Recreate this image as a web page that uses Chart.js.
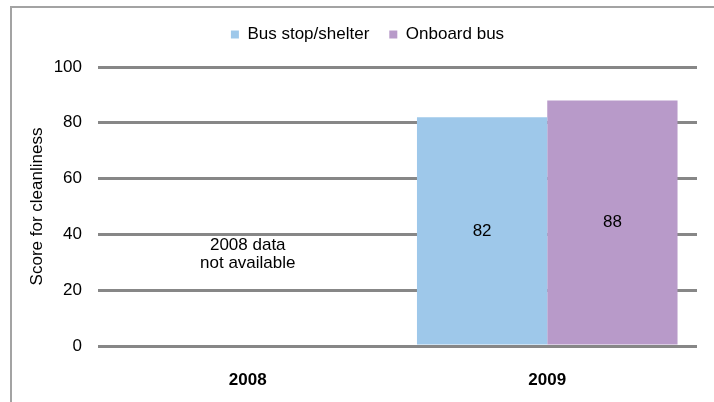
<!DOCTYPE html>
<html>
<head>
<meta charset="utf-8">
<script src="https://cdn.jsdelivr.net/npm/chart.js@4"></script>
<style>
html, body { margin: 0; padding: 0; background: #fff; }
</style>
</head>
<body>
<canvas id="cleanChart" width="714" height="402"></canvas>
<script>
// survey years and scores
const years = ['2008', '2009'];
const busStopScores = [null, 82];
const onboardScores = [null, 88];
const noteLines = ['2008 data', 'not available'];
const noteValue = 33; // where the note sits on the score axis

const FONT = "'Liberation Sans', Arial, sans-serif";

// white page + grey frame on top and left
const framePlugin = {
    id: 'frame',
    beforeDraw(chart) {
        const ctx = chart.ctx;
        ctx.save();
        ctx.fillStyle = '#fff';
        ctx.fillRect(0, 0, chart.width, chart.height);
        ctx.strokeStyle = '#a3a3a3';
        ctx.lineWidth = 2;
        ctx.beginPath();
        ctx.moveTo(11, chart.height);
        ctx.lineTo(11, 7);
        ctx.lineTo(chart.width, 7);
        ctx.stroke();
        ctx.restore();
    }
};

// legend sits higher and a little right of the canvas centre
const legendShift = {
    id: 'legendShift',
    afterLayout(chart) {
        const lg = chart.legend;
        if (lg) {
            lg.left += 13;
            lg.right += 13;
            lg.top -= 14;
            lg.bottom -= 14;
        }
    }
};

// value inside each bar + the "no data" note under 2008
const labelsPlugin = {
    id: 'barLabels',
    afterDatasetsDraw(chart) {
        const ctx = chart.ctx;
        ctx.save();
        ctx.fillStyle = '#000';
        ctx.font = '17px ' + FONT;
        ctx.textAlign = 'center';
        ctx.textBaseline = 'middle';
        chart.data.datasets.forEach((ds, i) => {
            chart.getDatasetMeta(i).data.forEach((bar, j) => {
                if (ds.data[j] == null) return;
                ctx.fillText(String(ds.data[j]), bar.x, (bar.y + bar.base) / 2);
            });
        });
        const x = chart.scales.x.getPixelForValue(0);
        const y = chart.scales.y.getPixelForValue(noteValue);
        ctx.fillText(noteLines[0], x, y - 9);
        ctx.fillText(noteLines[1], x, y + 9);
        ctx.restore();
    }
};

new Chart(document.getElementById('cleanChart'), {
    type: 'bar',
    data: {
        labels: years,
        datasets: [
            {
                label: 'Bus stop/shelter',
                data: busStopScores,
                backgroundColor: '#9ec8ea',
                borderWidth: 0
            },
            {
                label: 'Onboard bus',
                data: onboardScores,
                backgroundColor: '#b89ac9',
                borderWidth: 0
            }
        ]
    },
    options: {
        responsive: false,
        animation: false,
        devicePixelRatio: 1,
        datasets: {
            bar: { barPercentage: 1, categoryPercentage: 0.87 }
        },
        layout: { padding: { top: 4, left: 12, right: 17, bottom: 0 } },
        plugins: {
            legend: {
                position: 'top',
                labels: {
                    font: { family: FONT, size: 17 },
                    color: '#000',
                    boxWidth: 8,
                    boxHeight: 8,
                    padding: 20
                }
            },
            tooltip: { enabled: false }
        },
        scales: {
            x: {
                grid: { display: false, drawTicks: false },
                border: { display: false },
                ticks: {
                    font: { family: FONT, size: 17, weight: 'bold' },
                    color: '#000',
                    padding: 24
                },
                afterFit(scale) { scale.height = 56; }
            },
            y: {
                min: 0,
                max: 100,
                ticks: {
                    stepSize: 20,
                    padding: 16,
                    font: { family: FONT, size: 17 },
                    color: '#000'
                },
                grid: { color: '#878787', lineWidth: 3, drawTicks: false },
                border: { display: false },
                title: {
                    display: true,
                    text: 'Score for cleanliness',
                    font: { family: FONT, size: 17 },
                    color: '#000',
                    padding: { top: 15, bottom: 0 }
                },
                afterFit(scale) {
                    scale.width = 86;
                    scale.paddingTop = 67;
                }
            }
        }
    },
    plugins: [framePlugin, legendShift, labelsPlugin]
});
</script>
</body>
</html>
